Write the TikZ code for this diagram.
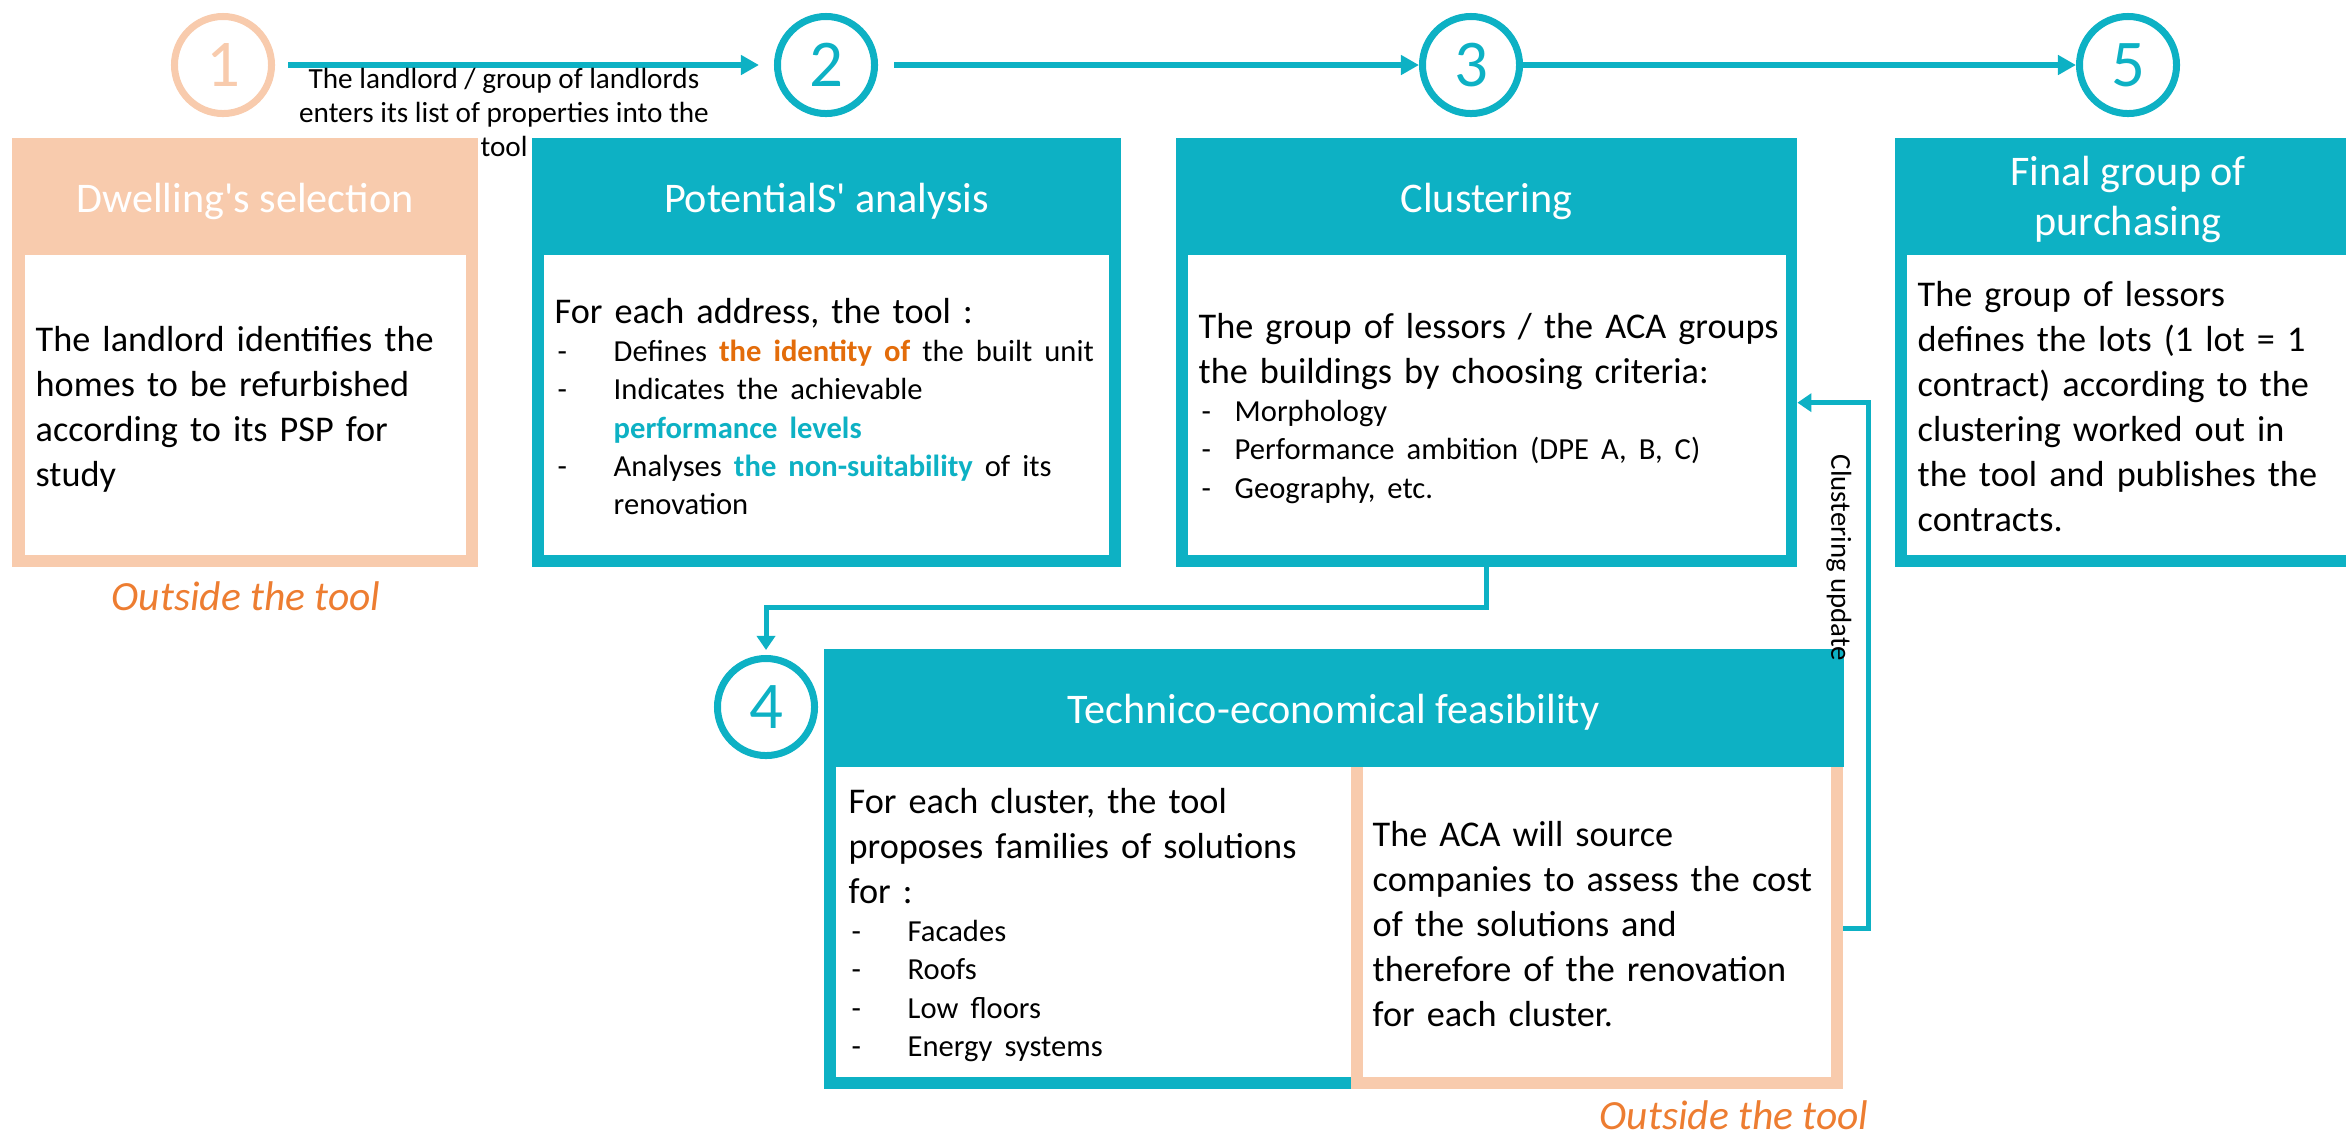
\documentclass[tikz,border=0pt]{standalone}
\usepackage{fontspec}
\setmainfont{Carlito}
\usetikzlibrary{arrows.meta}

\definecolor{tealbox}{HTML}{0DB1C4}
\definecolor{peach}{HTML}{F8CBAD}
\definecolor{outorange}{HTML}{ED7D31}
\definecolor{idorange}{HTML}{E36C0A}

\newcommand\titlefont{\fontsize{12}{14.2}\selectfont}
\newcommand\bodyfont{\fontsize{10.3}{12.8}\selectfont\frenchspacing}
\newcommand\listfont{\fontsize{8.7}{10.9}\selectfont}
\newcommand\dashitem[1][0.59cm]{\makebox[#1][l]{\hspace{0.03cm}-}}
\newcommand\cont[1][0.59cm]{\hspace*{#1}}
\newcommand\apos{\textquotesingle}

\tikzset{
  panel/.style={rectangle, inner sep=0, outer sep=0, anchor=north west},
  numcirc/.style={circle, draw=tealbox, line width=0.07cm, minimum size=0.97cm, inner sep=0,
    text=tealbox, font=\fontsize{19}{19}\selectfont},
  flow/.style={draw=tealbox, line width=0.06cm, -{Triangle[length=0.18cm,width=0.19cm]}},
  linkarrow/.style={draw=tealbox, line width=0.05cm, -{Triangle[length=0.14cm,width=0.18cm]}},
  hdrtitle/.style={text=white, font=\titlefont, anchor=base, inner sep=0},
  bodytxt/.style={anchor=north west, inner sep=0, align=left, font=\bodyfont},
  outsidetxt/.style={text=outorange, font=\fontsize{11.8}{14}\selectfont\itshape, anchor=base, inner sep=0}
}

\begin{document}
\begin{tikzpicture}[x=0.01cm,y=-0.01cm]
\useasboundingbox (0,0) rectangle (2346,1135);
\clip (0,0) rectangle (2346,1135);

% step numbers
\node[numcirc, draw=peach, text=peach] (c1) at (223,65) {1};
\node[numcirc] (c2) at (826,65) {2};
\node[numcirc] (c3) at (1471,65) {3};
\node[numcirc] (c5) at (2128,65) {5};
\node[numcirc] (c4) at (766,707) {4};

\draw[flow, shorten <=0.13cm, shorten >=0.15cm] (c1) -- (c2);
\draw[flow, shorten <=0.16cm] (c2) -- (c3);
\draw[flow] (c3) -- (c5);
\node[font=\fontsize{8.3}{9.7}\selectfont\frenchspacing, align=center, anchor=north, inner sep=0] (entry) at (504,64)
  {\strut The landlord / group of landlords\\enters its list of properties into the\\tool};

% box 1
\node[panel, fill=peach, minimum width=4.66cm, minimum height=4.29cm] (dwell) at (12,138) {};
\node[panel, fill=white, minimum width=4.41cm, minimum height=3.00cm] (dwellin) at (25,255) {};
\node[hdrtitle] (dwellttl) at (245,212) {Dwelling\apos s selection};
\node[bodytxt, text width=4.4cm] (dwelltxt) at (35,319)
  {\strut The landlord identifies the\par homes to be refurbished\par according to its PSP for\par study};
\node[outsidetxt] (out1) at (246,610) {Outside the tool};

% box 2
\node[panel, fill=tealbox, minimum width=5.89cm, minimum height=4.29cm] (pot) at (532,138) {};
\node[panel, fill=white, minimum width=5.65cm, minimum height=3.00cm] (potin) at (544,255) {};
\node[hdrtitle] (potttl) at (826.5,212) {PotentialS\apos\ analysis};
\node[bodytxt, text width=6.5cm] (pottxt) at (554,291)
  {\strut For each address, the tool :\par
   {\listfont\dashitem Defines \textcolor{idorange}{\textbf{the identity of}} the built unit\par
   \dashitem Indicates the achievable\par
   \cont\textcolor{tealbox}{\textbf{performance levels}}\par
   \dashitem Analyses \textcolor{tealbox}{\textbf{the non-suitability}} of its\par
   \cont renovation\par}};

% box 3
\node[panel, fill=tealbox, minimum width=6.21cm, minimum height=4.29cm] (clus) at (1176,138) {};
\node[panel, fill=white, minimum width=5.98cm, minimum height=3.00cm] (clusin) at (1188,255) {};
\node[hdrtitle] (clusttl) at (1486.5,212) {Clustering};
\node[bodytxt, text width=6.6cm] (clustxt) at (1198,306)
  {\strut The group of lessors / the ACA groups\par the buildings by choosing criteria:\par
   {\listfont\dashitem[0.36cm]Morphology\par
   \dashitem[0.36cm]Performance ambition (DPE A, B, C)\par
   \dashitem[0.36cm]Geography, etc.\par}};

% box 5
\node[panel, fill=tealbox, minimum width=4.66cm, minimum height=4.29cm] (fin) at (1895,138) {};
\node[panel, fill=white, minimum width=4.42cm, minimum height=3.00cm] (finin) at (1907,255) {};
\node[hdrtitle, anchor=north, align=center] (finttl) at (2128,150) {\strut Final group of\\purchasing};
\node[bodytxt, text width=4.3cm] (fintxt) at (1917,274)
  {\strut The group of lessors\par defines the lots (1 lot = 1\par contract) according to the\par
   clustering worked out in\par the tool and publishes the\par contracts.};

% box 4
\node[panel, fill=tealbox, minimum width=10.19cm, minimum height=1.18cm] (tefh) at (824,649) {};
\node[panel, fill=tealbox, minimum width=5.27cm, minimum height=3.22cm] (tefl) at (824,767) {};
\node[panel, fill=white, minimum width=5.15cm, minimum height=3.10cm] (teflin) at (836,767) {};
\node[panel, fill=peach, minimum width=4.92cm, minimum height=3.22cm] (tefr) at (1351,767) {};
\node[panel, fill=white, minimum width=4.68cm, minimum height=3.10cm] (tefrin) at (1363,767) {};
\node[hdrtitle] (tefttl) at (1333.5,723) {Technico-economical feasibility};
\node[bodytxt, text width=5.3cm] (teftxt) at (848,781)
  {\strut For each cluster, the tool\par proposes families of solutions\par for :\par
   {\listfont\dashitem Facades\par \dashitem Roofs\par \dashitem Low floors\par \dashitem Energy systems\par}};
\node[bodytxt, text width=4.8cm] (acatxt) at (1372,814)
  {\strut The ACA will source\par companies to assess the cost\par of the solutions and\par
   therefore of the renovation\par for each cluster.};
\node[outsidetxt] (out2) at (1734,1129) {Outside the tool};

% connectors
\draw[linkarrow, shorten >=0.05cm] (clus.south) -- ++(0,40) -| (c4.north);
\draw[linkarrow] (tefr.east) -- ++(25,0) |- ([yshift=-0.5cm]clus.east);
\node[rotate=-90, font=\fontsize{8.2}{10}\selectfont, inner sep=0] (updlbl) at (1839,558) {Clustering update};
\end{tikzpicture}
\end{document}
